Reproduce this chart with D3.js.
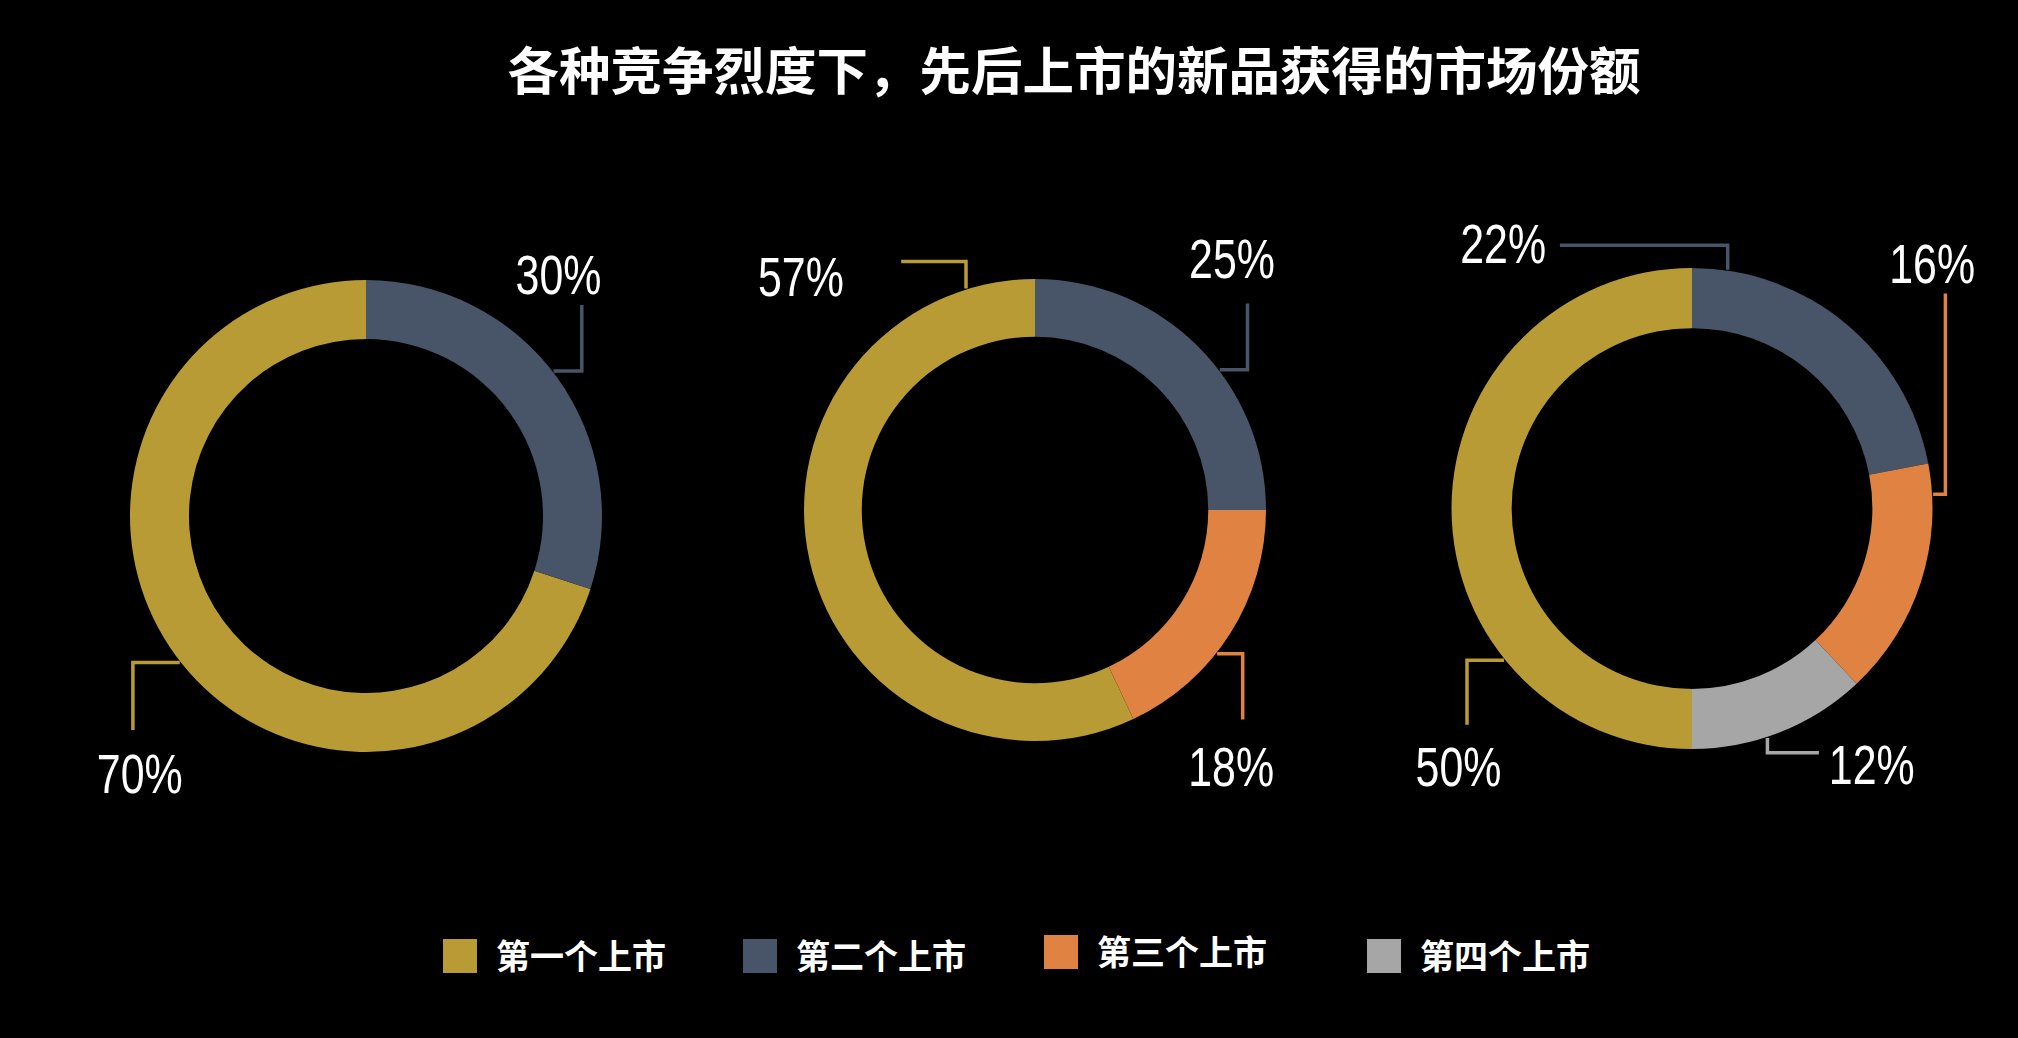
<!DOCTYPE html>
<html><head><meta charset="utf-8">
<script src="https://cdn.jsdelivr.net/npm/d3@7"></script>
<style>
html,body{margin:0;padding:0;background:#000;}
svg{display:block;}
</style></head>
<body>
<svg id="chart" width="2018" height="1038"></svg>
<script>
// ---- data ----
const title = "各种竞争烈度下，先后上市的新品获得的市场份额";
const categories = ["第一个上市", "第二个上市", "第三个上市", "第四个上市"];
const shares1 = [70, 30];
const shares2 = [57, 25, 18];
const shares3 = [50, 22, 16, 12];
const seriesList = [shares1, shares2, shares3];
// slice order around the ring: second, third, fourth, then first
const ringOrder = [1, 2, 3, 0];

// ---- styles / layout ----
const colors = ["#B99B35", "#485467", "#E08242", "#A6A6A6"];
const donutLayout = [
  { cx: 366, cy: 516, r: 236 },
  { cx: 1035, cy: 510, r: 231 },
  { cx: 1692, cy: 508.5, r: 240.5 }
];
// leader/label layout per donut, keyed by category index
// ang: anchor angle on ring (deg), h: horizontal-first elbow, ex/ey: leader end (rel. to centre),
// lx/ly: label position (rel.), a: text anchor
const labelLayout = [
  { 1: { ang: 52.3, h: true, ex: 215.8, ey: -211, lx: 235.4, ly: -222.5, a: "end" },
    0: { ang: 231.8, h: true, ex: -233.1, ey: 214, lx: -269.2, ly: 277, a: "start" } },
  { 0: { ang: 342.7, h: false, ex: -133.8, ey: -248.4, lx: -277, ly: -214, a: "start" },
    1: { ang: 52.8, h: true, ex: 212.5, ey: -206.6, lx: 239.9, ly: -232.5, a: "end" },
    2: { ang: 128.3, h: true, ex: 207.7, ey: 209.6, lx: 239.1, ly: 275.5, a: "end" } },
  { 1: { ang: 8.5, h: false, ex: -132.1, ey: -263.2, lx: -145.9, ly: -246, a: "end" },
    2: { ang: 86.6, h: true, ex: 253.4, ey: -215, lx: 283.1, ly: -225.7, a: "end" },
    3: { ang: 161.8, h: false, ex: 126.9, ey: 244.3, lx: 136.8, ly: 275.6, a: "start" },
    0: { ang: 231.1, h: true, ex: -225, ey: 216.3, lx: -276.4, ly: 277.6, a: "start" } }
];
const legendX = [443, 743, 1044, 1367];
const legendDy = [0, 0, -4, 0];

const svg = d3.select("#chart");
svg.append("rect").attr("width", 2018).attr("height", 1038).attr("fill", "#000");

svg.append("text")
  .attr("x", 1074).attr("y", 90)
  .attr("text-anchor", "middle")
  .attr("fill", "#fff")
  .attr("font-family", "'Noto Sans CJK SC', sans-serif")
  .attr("font-weight", 700)
  .attr("font-size", 51.5)
  .text(title);

const color = d3.scaleOrdinal().domain(d3.range(categories.length)).range(colors);

const pie = d3.pie()
  .value(d => d.v)
  .sort((a, b) => ringOrder.indexOf(a.i) - ringOrder.indexOf(b.i));

seriesList.forEach((vals, k) => {
  const L = donutLayout[k];
  const g = svg.append("g").attr("transform", `translate(${L.cx},${L.cy})`);
  const arc = d3.arc().innerRadius(L.r * 0.75).outerRadius(L.r);
  const data = vals.map((v, i) => ({ v, i }));
  const arcs = pie(data);
  g.selectAll("path.slice").data(arcs).join("path")
    .attr("class", "slice")
    .attr("d", arc)
    .attr("fill", d => color(d.data.i));

  arcs.forEach(d => {
    const ll = labelLayout[k][d.data.i];
    if (!ll) return;
    const t = ll.ang * Math.PI / 180;
    const ar = L.r + 1;
    const ax = ar * Math.sin(t), ay = -ar * Math.cos(t);
    const corner = ll.h ? [ll.ex, ay] : [ax, ll.ey];
    g.append("path")
      .attr("d", d3.line()([[ax, ay], corner, [ll.ex, ll.ey]]))
      .attr("fill", "none")
      .attr("stroke", color(d.data.i))
      .attr("stroke-width", 3.5);
    g.append("g")
      .attr("transform", `translate(${ll.lx},${ll.ly}) scale(0.78,1)`)
      .append("text")
      .attr("text-anchor", ll.a)
      .attr("fill", "#fff")
      .attr("font-family", "'Liberation Sans', Arial, sans-serif")
      .attr("font-size", 55)
      .text(d.data.v + "%");
  });
});

const leg = svg.append("g");
categories.forEach((c, i) => {
  const gi = leg.append("g").attr("transform", `translate(${legendX[i]},${939 + legendDy[i]})`);
  gi.append("rect").attr("width", 34).attr("height", 34).attr("fill", color(i));
  gi.append("text")
    .attr("x", 53).attr("y", 30)
    .attr("fill", "#fff")
    .attr("font-family", "'Noto Sans CJK SC', sans-serif")
    .attr("font-weight", 700)
    .attr("font-size", 34)
    .text(c);
});
</script>
</body></html>
